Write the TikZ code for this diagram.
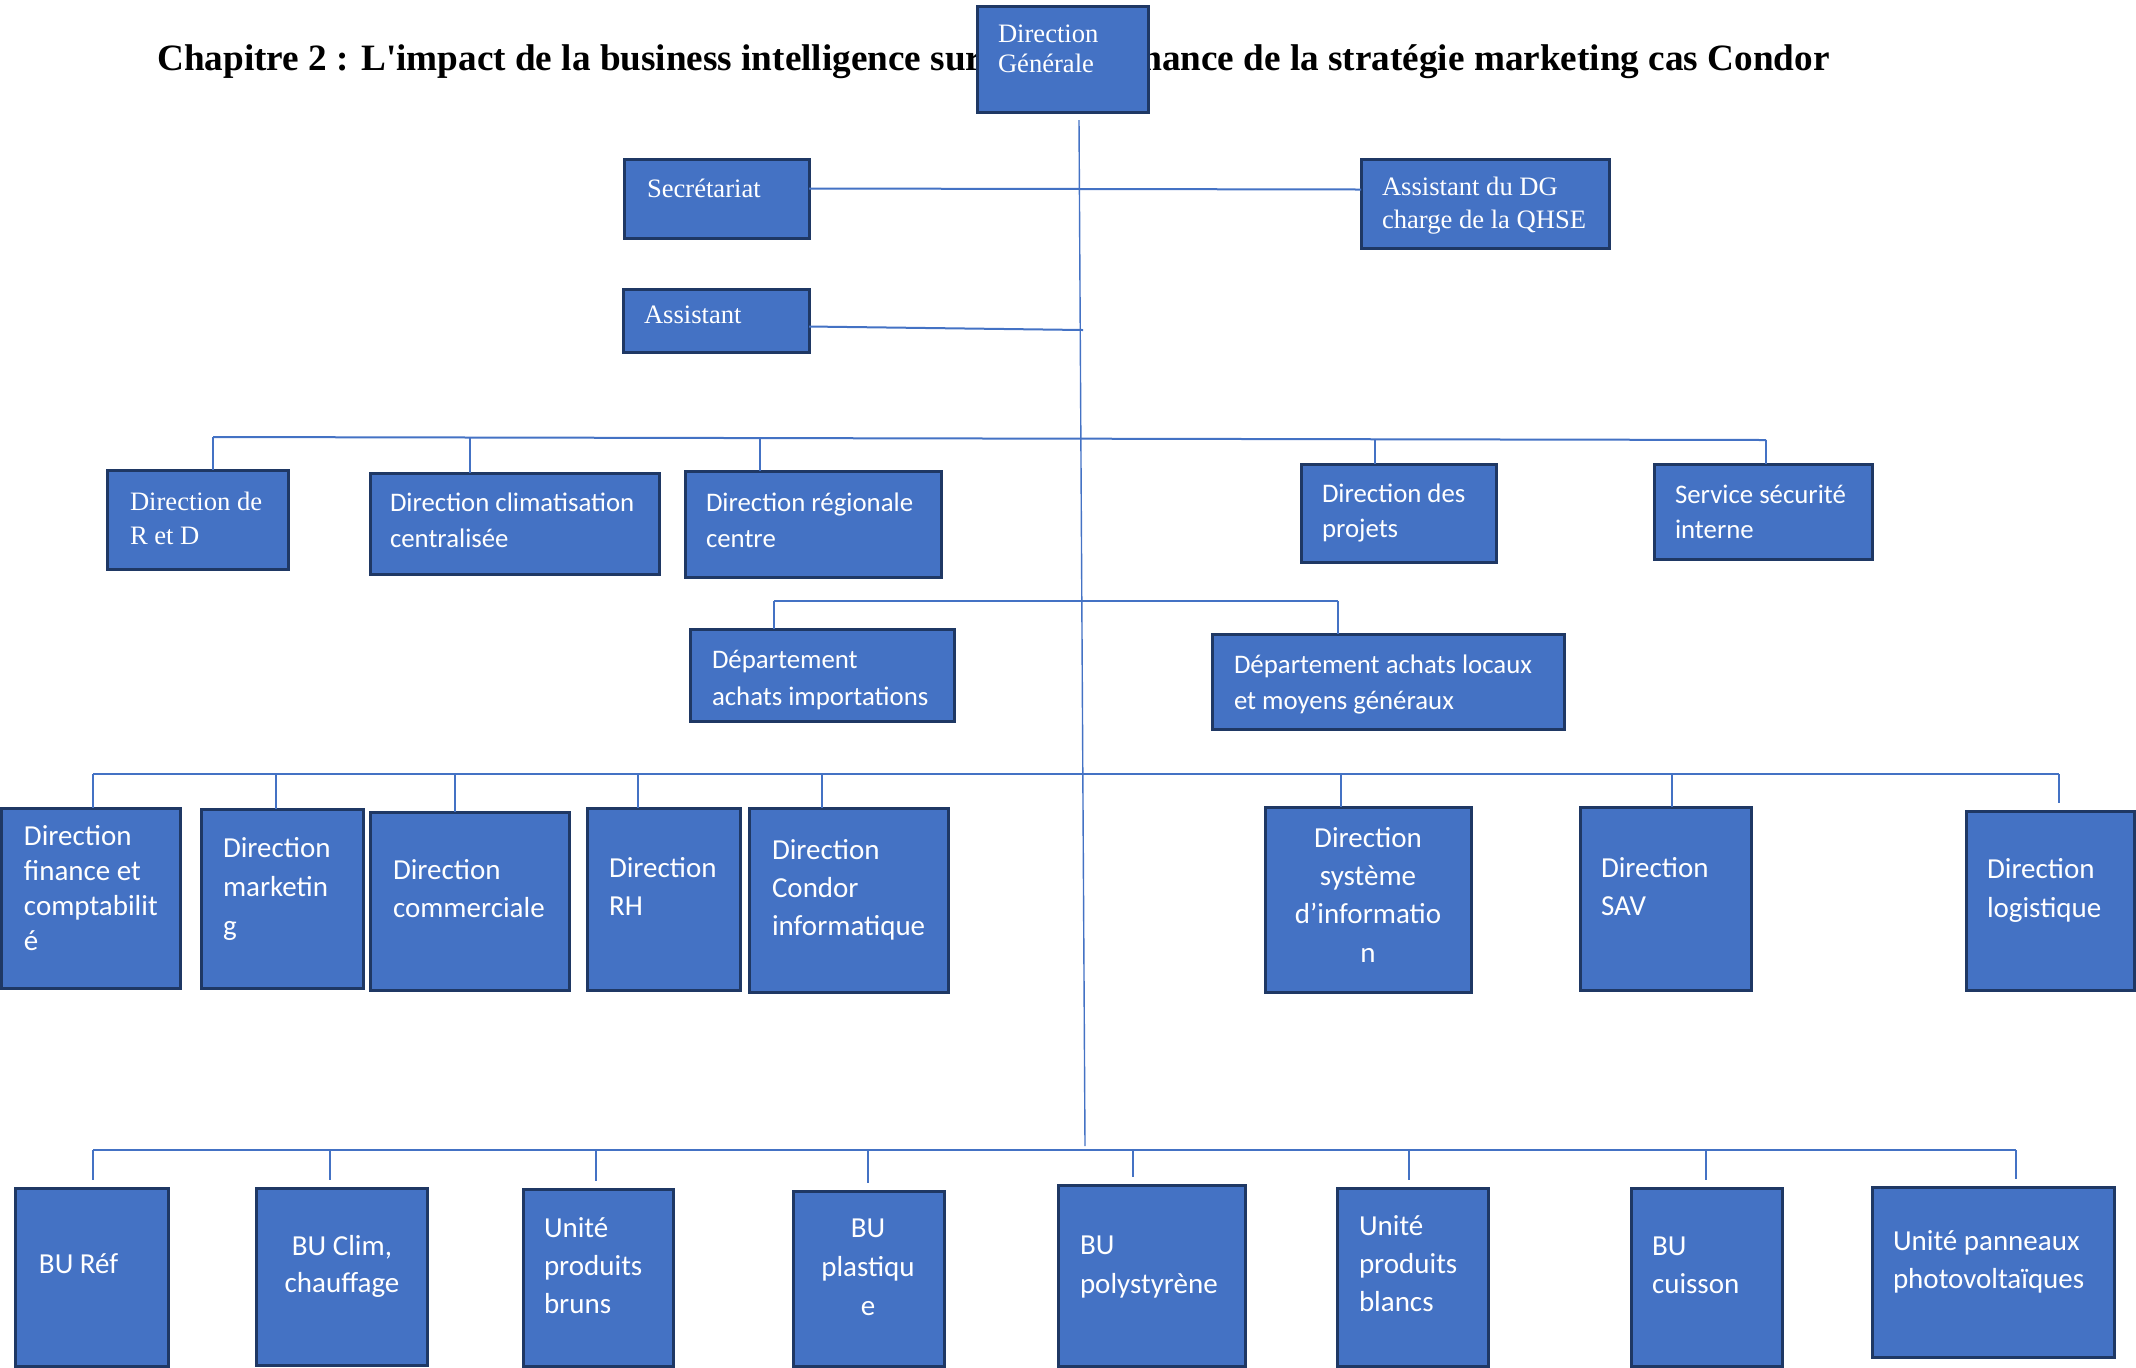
\documentclass[tikz,border=0pt]{standalone}
\usepackage{fontspec}
\setmainfont{Liberation Serif}
\newfontfamily\calfont{Carlito}
\usetikzlibrary{calc}

\definecolor{boxfill}{HTML}{4472C4}
\definecolor{boxline}{HTML}{1F3864}
\definecolor{linkblue}{HTML}{4472C4}

\tikzset{
  unit/.style={draw=boxline, fill=boxfill, line width=1.5pt, inner sep=0pt,
               outer sep=0pt, anchor=north west},
  lbl/.style={text=white, inner sep=0pt, outer sep=0pt},
  link/.style={draw=linkblue, line width=0.7pt},
  bus/.style={draw=linkblue, line width=1pt},
  gap/.style={shorten >=4pt},
}

% box from (x1,y1) to (x2,y2), pixel-like units, y pointing down
\newcommand\orgbox[5]{%
  \node[unit, minimum width={(#4-#2)*0.5pt}, minimum height={(#5-#3)*0.5pt}]
    (#1) at (#2,#3) {};}
% left-aligned label: name, x, first baseline, family, size, skip, text
\newcommand\boxtext[7]{%
  \node[lbl, anchor=base west] (#1-t) at (#2,#3)
    {\parbox[t]{300pt}{#4\fontsize{#5}{#6}\selectfont\raggedright #7}};}
% centred label: name, centre x, first baseline, family, size, skip, text
\newcommand\boxtextc[7]{%
  \node[lbl, anchor=base] (#1-t) at (#2,#3)
    {\parbox[t]{200pt}{#4\fontsize{#5}{#6}\selectfont\centering #7}};}
% junction on a bus and its drop to a box
\newcommand\drop[4][]{%
  \coordinate (j#2) at (#3,#4);
  \draw[link,#1] (j#2) -- (j#2 |- #2.north);}

\begin{document}
\begin{tikzpicture}[x=0.5pt,y=-0.5pt]
\useasboundingbox (0,0) rectangle (2136,1367);

% heading
\node[anchor=base west, inner sep=0pt] (title) at (157,70)
  {\fontsize{18.6}{22}\selectfont\bfseries Chapitre 2 : L\textquotesingle impact de la business intelligence sur la performance de la stratégie marketing cas Condor};

% ---------- boxes ----------
\orgbox{dg}{977}{6}{1148}{112}
\orgbox{sec}{624}{159}{809}{238}
\orgbox{adg}{1361}{159}{1609}{248}
\orgbox{ast}{623}{289}{809}{352}

\orgbox{rd}{107}{470}{288}{569}
\orgbox{clim}{370}{473}{659}{574}
\orgbox{reg}{685}{471}{941}{577}
\orgbox{proj}{1301}{464}{1496}{562}
\orgbox{secu}{1654}{464}{1872}{559}

\orgbox{dai}{690}{629}{954}{721}
\orgbox{dal}{1212}{634}{1564}{729}

\orgbox{fin}{1}{808}{180}{988}
\orgbox{mkt}{201}{809}{363}{988}
\orgbox{com}{370}{812}{569}{990}
\orgbox{rh}{587}{808}{740}{990}
\orgbox{inf}{749}{808}{948}{992}
\orgbox{si}{1265}{807}{1471}{992}
\orgbox{sav}{1580}{807}{1751}{990}
\orgbox{log}{1966}{811}{2134}{990}

\orgbox{bu1}{15}{1188}{168}{1366}
\orgbox{bu2}{256}{1188}{427}{1365}
\orgbox{bu3}{523}{1189}{673}{1366}
\orgbox{bu4}{793}{1191}{944}{1366}
\orgbox{bu5}{1058}{1185}{1245}{1366}
\orgbox{bu6}{1337}{1188}{1488}{1366}
\orgbox{bu7}{1631}{1188}{1782}{1366}
\orgbox{bu8}{1872}{1187}{2114}{1357}

% ---------- connectors ----------
\coordinate (t0) at (1079,120);
\coordinate (t1) at (1085,1146);
\draw[link] (t0) -- (t1);

\coordinate (tast) at (1083,330);
\draw[bus] ([yshift=5pt]sec.east) -- ([yshift=7pt]adg.west);
\draw[bus] ([yshift=-3pt]ast.east) -- (tast);

% first level
\drop{rd}{213}{437}
\drop{clim}{470}{438}
\drop{reg}{760}{438}
\drop{proj}{1375}{439}
\drop{secu}{1766}{440}
\draw[bus] (jrd) -- (jsecu);

% purchasing departments
\drop{dai}{774}{601}
\drop{dal}{1338}{601}
\draw[bus] (jdai) -- (jdal);

% second level
\drop{fin}{93}{774}
\drop{mkt}{276}{774}
\drop{com}{455}{774}
\drop{rh}{638}{774}
\drop{inf}{822}{774}
\drop{si}{1341}{774}
\drop{sav}{1672}{774}
\drop[gap]{log}{2059}{774}
\draw[bus] (jfin) -- (jlog);

% business units
\drop[gap]{bu1}{93}{1150}
\drop[gap]{bu2}{330}{1150}
\drop[gap]{bu3}{596}{1150}
\drop[gap]{bu4}{868}{1150}
\drop[gap]{bu5}{1133}{1150}
\drop[gap]{bu6}{1409}{1150}
\drop[gap]{bu7}{1706}{1150}
\drop[gap]{bu8}{2016}{1150}
\draw[bus] (jbu1) -- (jbu8);

% ---------- labels ----------
\boxtext{dg}{998}{42}{}{13.3}{15}{Direction\\Générale}
\boxtext{sec}{647}{197}{}{13.3}{16}{Secrétariat}
\boxtext{adg}{1382}{195}{}{13.3}{16.5}{Assistant du DG\\charge de la QHSE}
\boxtext{ast}{644}{323}{}{13.3}{16}{Assistant}
\boxtext{rd}{130}{510}{}{13.3}{17}{Direction de\\R et D}

\boxtext{clim}{390}{511}{\calfont}{13.4}{18}{Direction climatisation\\centralisée}
\boxtext{reg}{706}{511}{\calfont}{13.4}{18}{Direction régionale\\centre}
\boxtext{proj}{1322}{502}{\calfont}{13.4}{17.5}{Direction des\\projets}
\boxtext{secu}{1675}{503}{\calfont}{13.4}{17.5}{Service sécurité\\interne}
\boxtext{dai}{712}{668}{\calfont}{13.4}{18.5}{Département\\achats importations}
\boxtext{dal}{1234}{673}{\calfont}{13.4}{18}{Département achats locaux\\et moyens généraux}

\boxtext{fin}{24}{845}{\calfont}{14.5}{17.5}{Direction\\finance et\\comptabilit\\é}
\boxtext{mkt}{223}{857}{\calfont}{14.5}{19.5}{Direction\\marketin\\g}
\boxtext{com}{393}{879}{\calfont}{14.5}{19}{Direction\\commerciale}
\boxtext{rh}{609}{877}{\calfont}{14.5}{19}{Direction\\RH}
\boxtext{inf}{772}{859}{\calfont}{14.5}{19}{Direction\\Condor\\informatique}
\boxtextc{si}{1368}{847}{\calfont}{14.5}{19.2}{Direction\\système\\d’informatio\\n}
\boxtext{sav}{1601}{877}{\calfont}{14.5}{19}{Direction\\SAV}
\boxtext{log}{1987}{878}{\calfont}{14.5}{19.5}{Direction\\logistique}

\boxtext{bu1}{39}{1273}{\calfont}{14.5}{19}{BU Réf}
\boxtextc{bu2}{342}{1255}{\calfont}{14.5}{18.5}{BU Clim,\\chauffage}
\boxtext{bu3}{544}{1237}{\calfont}{14.5}{19}{Unité\\produits\\bruns}
\boxtextc{bu4}{868}{1237}{\calfont}{14.5}{19.5}{BU\\plastiqu\\e}
\boxtext{bu5}{1080}{1254}{\calfont}{14.5}{19.5}{BU\\polystyrène}
\boxtext{bu6}{1359}{1235}{\calfont}{14.5}{19}{Unité\\produits\\blancs}
\boxtext{bu7}{1652}{1255}{\calfont}{14.5}{19}{BU\\cuisson}
\boxtext{bu8}{1893}{1250}{\calfont}{14.5}{19}{Unité panneaux\\photovoltaïques}
\end{tikzpicture}
\end{document}
